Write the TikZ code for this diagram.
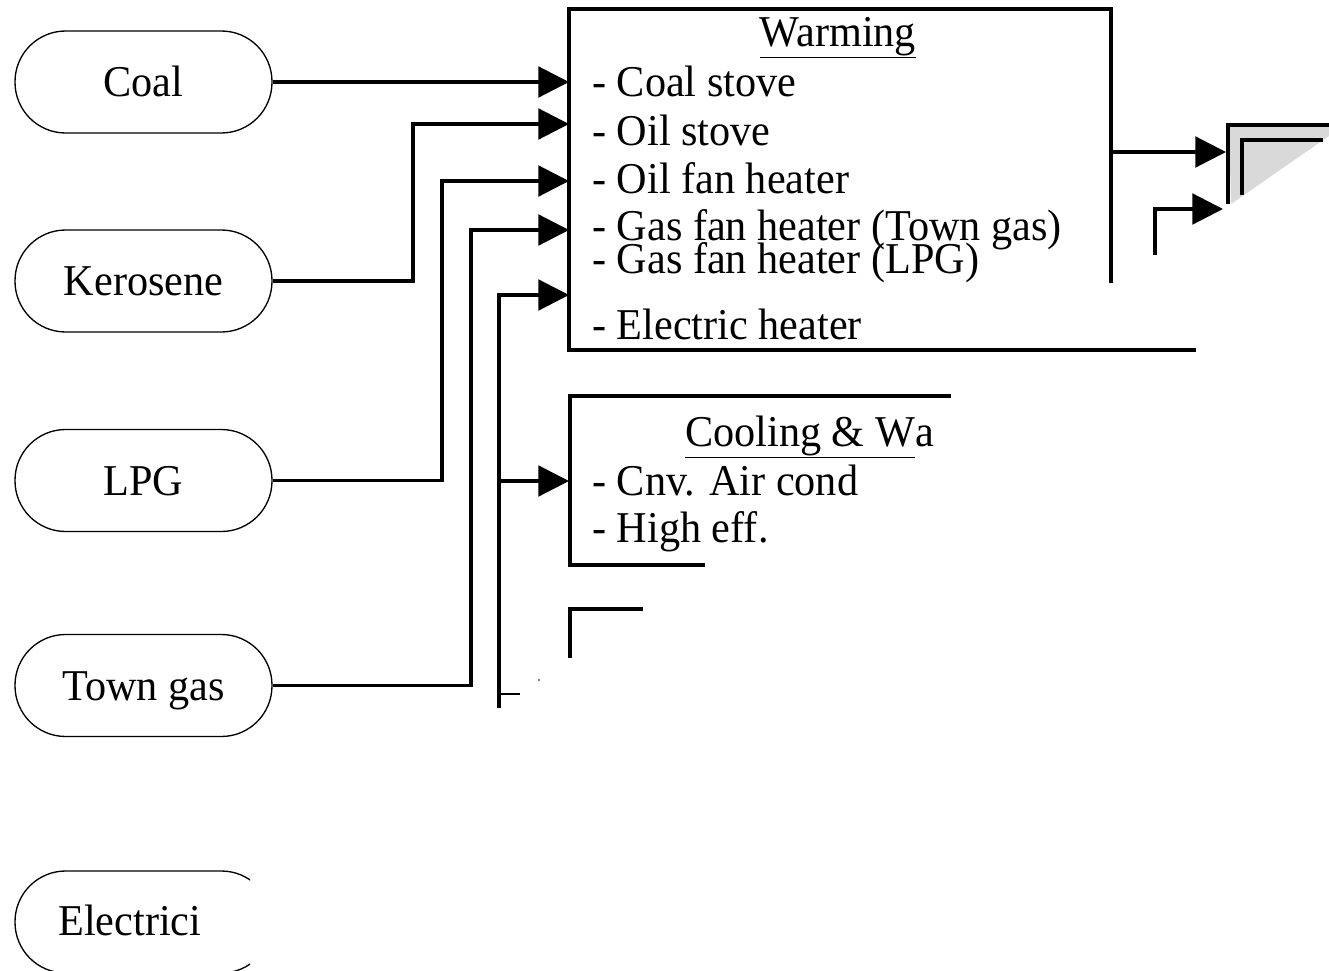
\documentclass[tikz,border=0pt]{standalone}
\usepackage{fontspec}
\setmainfont[FakeStretch=0.96]{Liberation Serif}
\usetikzlibrary{arrows.meta}
\newcommand\bigtxt{\fontsize{33}{40}\selectfont}
\tikzset{
  fuel/.style={draw, line width=1pt, rounded corners=38pt, minimum width=192.75pt, minimum height=76.5pt, inner sep=0pt, font=\bigtxt, text height=22pt, text depth=0pt},
  lbl/.style={anchor=base west, inner sep=0pt, font=\bigtxt},
  conn/.style={line width=2.4pt},
  arr/.style={line width=2.4pt, -{Triangle[length=23pt, width=23pt]}},
  boxline/.style={line width=3pt},
}
\begin{document}
\begin{tikzpicture}[x=0.75pt, y=-0.75pt]
\useasboundingbox (0,0) rectangle (1329,971);
% fuel nodes
\node[fuel] (coal) at (143.5,82) {Coal};
\node[fuel] (ker) at (143.5,281) {Kerosene};
\node[fuel] (lpg) at (143.5,480.5) {LPG};
\node[fuel] (town) at (143.5,685.5) {Town gas};
\begin{scope}
  \clip (0,850) rectangle (250,971);
  \node[fuel] (elec) at (143.5,922) {};
\end{scope}
\node[lbl] (electxt) at (58,935) {Electrici};

% warming box
\draw[boxline] (1111,283) -- (1111,9) -- (569,9) -- (569,350) -- (1196,350);
\node[lbl, anchor=base] (warm) at (838,46) {\underline{Warming}};
\node[lbl] (w1) at (592,96) {- Coal stove};
\node[lbl] (w2) at (592,145) {- Oil stove};
\node[lbl] (w3) at (592,193) {- Oil fan heater};
\node[lbl] (w4) at (592,240) {- Gas fan heater (Town gas)};
\node[lbl] (w5) at (592,273) {- Gas fan heater (LPG)};
\node[lbl] (w6) at (592,339) {- Electric heater};

% cooling box
\draw[boxline] (951,396) -- (570,396) -- (570,565) -- (705,565);
\node[lbl] (cool) at (685,446) {\underline{Cooling \& W}a};
\node[lbl] (c1) at (592,495) {- Cnv. Air cond};
\node[lbl] (c2) at (592,542) {- High eff.};

% third box corner
\draw[boxline] (643,609) -- (570,609) -- (570,658);

% arrow targets
\coordinate (t1) at (569,82);
\coordinate (t2) at (569,124);
\coordinate (t3) at (569,181);
\coordinate (t4) at (569,230);
\coordinate (t5) at (569,295);
\coordinate (t6) at (569,481);
\coordinate (kb) at (413,281);
\coordinate (lb) at (442,480.5);
\coordinate (tb) at (471,685.5);
\coordinate (eb) at (499,708);
\coordinate (ej) at (499,481);

\draw[arr] (coal.east) -- (t1);
\draw[arr] (ker.east) -- (kb) |- (t2);
\draw[arr] (lpg.east) -- (lb) |- (t3);
\draw[arr] (town.east) -- (tb) |- (t4);
\draw[arr] (eb) |- (t5);
\draw[arr] (ej) -- (t6);
\coordinate (es) at (520,694);
\draw[line width=2pt] (499,694) -- (es);
\fill (539,680) circle (0.8);

% output arrows
\coordinate (o1) at (1111,152);
\coordinate (o1t) at (1226,152);
\draw[arr] (o1) -- (o1t);
\coordinate (o2) at (1155,255);
\coordinate (o2t) at (1223,209);
\draw[arr] (o2) |- (o2t);

% top-right partial box
\fill[gray!30] (1229,127) -- (1329,127) -- (1329,136) -- (1231,204) -- cycle;
\draw[boxline] (1228,204) -- (1228,125) -- (1329,125);
\draw[boxline] (1242,195) -- (1242,140) -- (1323,140);
\end{tikzpicture}
\end{document}
